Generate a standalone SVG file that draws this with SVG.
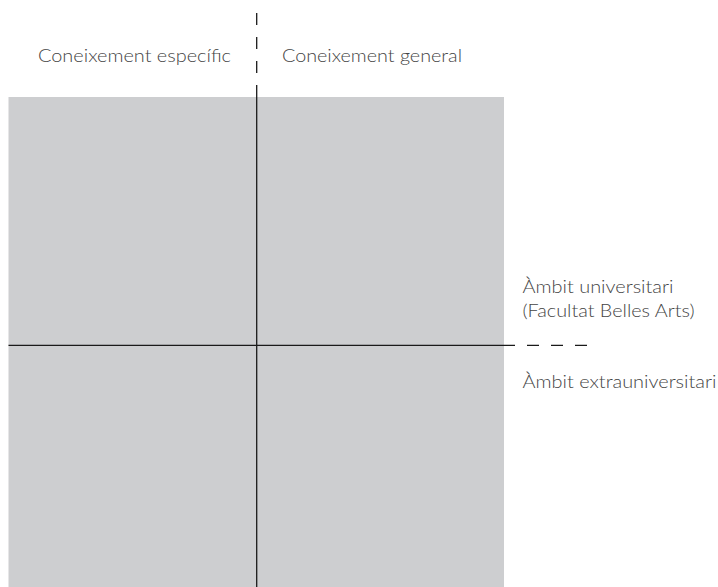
<svg xmlns="http://www.w3.org/2000/svg" width="718" height="587" viewBox="0 0 718 587">
<style>
.lbl{font-family:Lato,"Liberation Sans",sans-serif;font-weight:300;font-size:17px;fill:#444}
.ax{stroke:#1a1a1a;stroke-width:1.3;fill:none}
.dash{stroke:#1a1a1a;stroke-width:1.3;fill:none;stroke-dasharray:12 12}
</style>
<rect width="718" height="587" fill="#ffffff"/>
<g id="field">
<rect x="8.5" y="97" width="495.5" height="490" fill="#cdced0"/>
</g>
<g id="connectors">
<line class="dash" x1="256.7" y1="13" x2="256.7" y2="85"/>
<line class="ax" x1="256.7" y1="85" x2="256.7" y2="587"/>
<line class="ax" x1="8.5" y1="345.3" x2="515" y2="345.3"/>
<line class="dash" x1="527" y1="345.3" x2="599" y2="345.3"/>
</g>
<g id="label-especific">
<text class="lbl" x="38" y="62" textLength="193" lengthAdjust="spacingAndGlyphs">Coneixement específic</text>
</g>
<g id="label-general">
<text class="lbl" x="282" y="62" textLength="180" lengthAdjust="spacingAndGlyphs">Coneixement general</text>
</g>
<g id="label-universitari">
<text class="lbl" x="522.5" y="292.5" textLength="151" lengthAdjust="spacingAndGlyphs">Àmbit universitari</text>
<text class="lbl" x="522.5" y="316.5" textLength="172" lengthAdjust="spacingAndGlyphs">(Facultat Belles Arts)</text>
</g>
<g id="label-extrauniversitari">
<text class="lbl" x="522.5" y="388" textLength="194" lengthAdjust="spacingAndGlyphs">Àmbit extrauniversitari</text>
</g>
</svg>
